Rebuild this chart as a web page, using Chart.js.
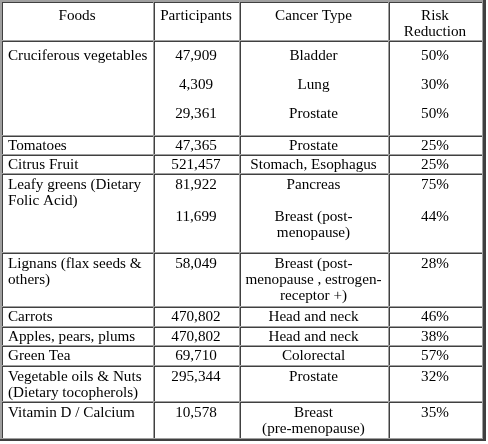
<!DOCTYPE html>
<html>
<head>
<meta charset="utf-8">
<script src="https://cdn.jsdelivr.net/npm/chart.js"></script>
<style>
  body { margin: 0; background: #fff; }
  canvas { display: block; }
</style>
</head>
<body>
<canvas id="table" width="488" height="444"></canvas>
<script>
// table content
const headers = ['Foods', 'Participants', 'Cancer Type', 'Risk\nReduction'];
const foods = ['Cruciferous vegetables', 'Tomatoes', 'Citrus Fruit', 'Leafy greens (Dietary\nFolic Acid)',
    'Lignans (flax seeds &\nothers)', 'Carrots', 'Apples, pears, plums', 'Green Tea',
    'Vegetable oils & Nuts\n(Dietary tocopherols)', 'Vitamin D / Calcium'];
const participants = [[47909, 4309, 29361], [47365], [521457], [81922, 11699], [58049],
    [470802], [470802], [69710], [295344], [10578]];
const cancerTypes = [['Bladder', 'Lung', 'Prostate'], ['Prostate'], ['Stomach, Esophagus'],
    ['Pancreas', 'Breast (post-\nmenopause)'], ['Breast (post-\nmenopause , estrogen-\nreceptor +)'],
    ['Head and neck'], ['Head and neck'], ['Colorectal'], ['Prostate'], ['Breast\n(pre-menopause)']];
const riskReduction = [[50, 30, 50], [25], [25], [75, 44], [28], [46], [38], [57], [32], [35]];

// layout (in canvas units, mapped through the scales)
const colEdges = [2, 154, 240, 389, 483];
const rowEdges = [2, 41, 136, 155, 174, 253, 307, 327, 346, 366, 402, 439];
const firstBaseline = [18, 19, 14, 14, 15, 15, 14, 14, 14, 15, 15];
const entryStep = [0, 29, 0, 0, 32, 0, 0, 0, 0, 0, 0];
const lineHeight = 16;

// rows of cells, each cell a list of entries
const rows = [headers.map(h => [h])];
foods.forEach((f, i) => {
    rows.push([
        [f],
        participants[i].map(v => v.toLocaleString('en-US')),
        cancerTypes[i],
        riskReduction[i].map(v => v + '%')
    ]);
});

const points = [];
rows.forEach((cells, r) => {
    cells.forEach((entries, c) => {
        const left = r > 0 && c === 0;
        const x = left ? colEdges[0] + 6 : (colEdges[c] + colEdges[c + 1]) / 2 - 1;
        entries.forEach((entry, j) => {
            entry.split('\n').forEach((line, k) => {
                points.push({
                    x: x,
                    y: rowEdges[r] + firstBaseline[r] + j * entryStep[r] + k * lineHeight,
                    text: line,
                    align: left ? 'left' : 'center'
                });
            });
        });
    });
});

// pick a font size so the widest food name spans like the original
const probe = document.createElement('canvas').getContext('2d');
probe.font = '14px "Liberation Serif"';
const fontSize = 14 * 139.5 / probe.measureText('Cruciferous vegetables').width;

const tablePlugin = {
    id: 'tablePlugin',
    beforeDatasetsDraw(chart) {
        const ctx = chart.ctx;
        const X = v => Math.round(chart.scales.x.getPixelForValue(v));
        const Y = v => Math.round(chart.scales.y.getPixelForValue(v));
        ctx.save();
        ctx.fillStyle = '#fff';
        ctx.fillRect(0, 0, chart.width, chart.height);
        // outer border (outset)
        ctx.fillStyle = '#a0a0a0';
        ctx.fillRect(X(0), Y(0), X(486) - X(0), Y(2) - Y(0));
        ctx.fillRect(X(0), Y(0), X(2) - X(0), Y(441) - Y(0));
        ctx.fillStyle = '#404040';
        ctx.fillRect(X(483), Y(0), X(486) - X(483), Y(441) - Y(0));
        ctx.fillRect(X(0), Y(439), X(486) - X(0), Y(441) - Y(439));
        // cell borders (inset)
        for (let r = 0; r < rowEdges.length - 1; r++) {
            for (let c = 0; c < colEdges.length - 1; c++) {
                const x0 = X(colEdges[c]), x1 = X(colEdges[c + 1]);
                const y0 = Y(rowEdges[r]), y1 = Y(rowEdges[r + 1]);
                ctx.fillStyle = '#404040';
                ctx.fillRect(x0, y0, x1 - x0 - 1, 1);
                ctx.fillRect(x0, y0, 1, y1 - y0 - 1);
                ctx.fillStyle = '#a0a0a0';
                ctx.fillRect(x0, y1 - 1, x1 - x0, 1);
                ctx.fillRect(x1 - 1, y0, 1, y1 - y0);
            }
        }
        ctx.restore();
    },
    afterDatasetsDraw(chart) {
        const ctx = chart.ctx;
        const meta = chart.getDatasetMeta(0);
        ctx.save();
        ctx.fillStyle = '#000';
        ctx.font = fontSize.toFixed(2) + 'px "Liberation Serif", "DejaVu Serif", serif';
        ctx.textBaseline = 'alphabetic';
        meta.data.forEach((el, i) => {
            const p = points[i];
            ctx.textAlign = p.align;
            ctx.fillText(p.text, el.x, el.y);
        });
        ctx.restore();
    }
};

new Chart(document.getElementById('table').getContext('2d'), {
    type: 'scatter',
    data: {
        datasets: [{
            data: points,
            pointRadius: 0,
            pointHoverRadius: 0,
            showLine: false
        }]
    },
    options: {
        responsive: false,
        animation: false,
        events: [],
        layout: { padding: 0 },
        plugins: {
            legend: { display: false },
            tooltip: { enabled: false }
        },
        scales: {
            x: { type: 'linear', min: 0, max: 488, display: false },
            y: { type: 'linear', min: 0, max: 444, reverse: true, display: false }
        }
    },
    plugins: [tablePlugin]
});
</script>
</body>
</html>
